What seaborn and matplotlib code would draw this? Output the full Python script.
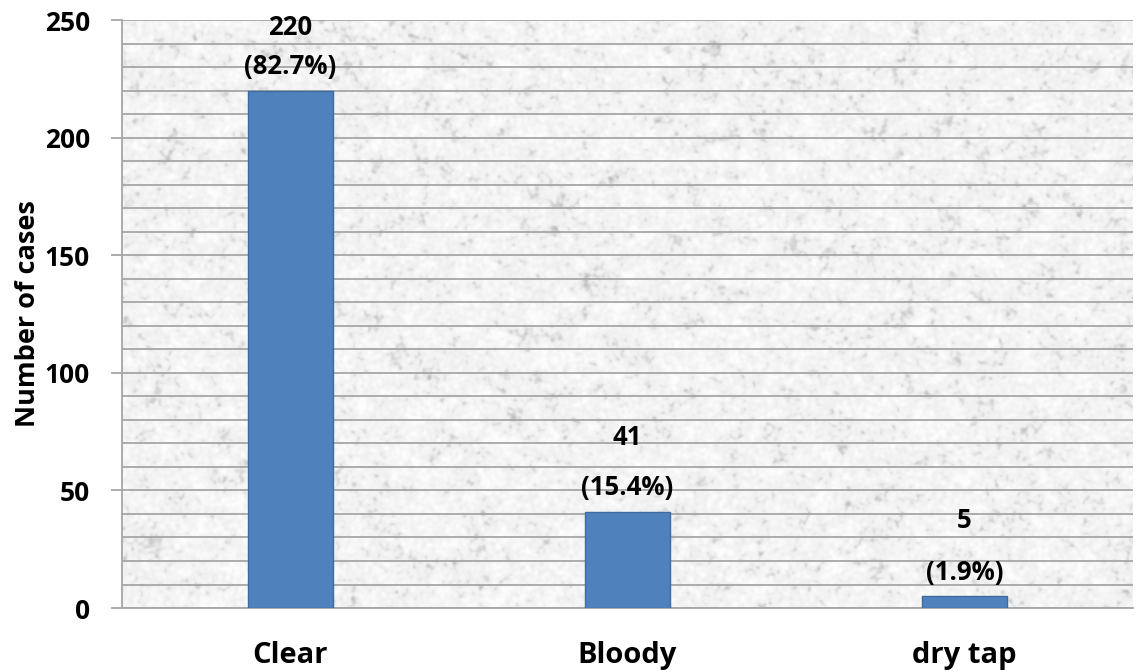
import numpy as np
import pandas as pd
import matplotlib
matplotlib.use("Agg")
import matplotlib.pyplot as plt
import seaborn as sns

# Data
categories = ["Clear", "Bloody", "dry tap"]
counts = [220, 41, 5]
percent_labels = ["(82.7%)", "(15.4%)", "(1.9%)"]

sns.set_theme(style="white")
plt.rcParams["font.family"] = ["Open Sans", "DejaVu Sans"]
plt.rcParams["font.weight"] = "bold"

fig = plt.figure(figsize=(11.39, 6.72), dpi=100)
ax = fig.add_axes([0.1071, 0.0952, 0.8876, 0.8750])

# Granite-like mottled background for the plot area (band-limited noise)
rng = np.random.default_rng(11)
h, w = 588, 1011

def filtered_noise(sigma):
    n = rng.standard_normal((h, w))
    fy = np.fft.fftfreq(h)[:, None]
    fx = np.fft.fftfreq(w)[None, :]
    g = np.exp(-2 * (np.pi * sigma) ** 2 * (fx ** 2 + fy ** 2))
    out = np.real(np.fft.ifft2(np.fft.fft2(n) * g))
    return (out - out.mean()) / out.std()

tex = 0.55 * filtered_noise(1.6) + 0.45 * filtered_noise(5.0)
shade = 0.955 + 0.022 * np.clip(tex, -1, 2) - 0.09 * np.clip(-tex - 0.85, 0, 2)
shade = np.clip(shade, 0.74, 0.99)
rgb = np.dstack([shade, shade, shade])

df = pd.DataFrame({"category": categories, "count": counts})
sns.barplot(data=df, x="category", y="count", color="#4F81BD",
            edgecolor="#3D6B9F", linewidth=1.0, width=0.255, saturation=1,
            ax=ax, zorder=3)

ax.imshow(rgb, extent=(-0.5, 2.5, 0, 250), aspect="auto", zorder=0,
          interpolation="nearest")
ax.set_xlim(-0.5, 2.5)
ax.set_ylim(0, 250)

# Gridlines every 10, labelled ticks every 50
ax.set_yticks(np.arange(0, 251, 50))
ax.set_yticks(np.arange(0, 251, 10), minor=True)
ax.set_axisbelow(True)
ax.grid(axis="y", which="both", color="#a6a6a6", linewidth=1.3, zorder=1)
ax.grid(axis="x", visible=False)
ax.tick_params(axis="y", which="major", length=8, width=1.3, color="#a6a6a6",
               left=True, labelsize=19, pad=15)
ax.tick_params(axis="y", which="minor", length=0)
ax.tick_params(axis="x", length=0, labelsize=21, pad=24)
for lbl in ax.get_yticklabels() + ax.get_xticklabels():
    lbl.set_fontweight("bold")
    lbl.set_color("black")

for side in ["top", "right"]:
    ax.spines[side].set_visible(False)
for side in ["left", "bottom"]:
    ax.spines[side].set_color("#a6a6a6")
    ax.spines[side].set_linewidth(1.3)

ax.set_xlabel("")
ax.set_ylabel("Number of cases", fontsize=19.5, fontweight="bold",
              color="black")
ax.yaxis.set_label_coords(-0.080, 0.5)

# Value and share labels above each bar
count_offsets = [63, 74, 76]
for i, (c, p) in enumerate(zip(counts, percent_labels)):
    ax.annotate(str(c), (i, c), xytext=(0, count_offsets[i]),
                textcoords="offset pixels", ha="center", va="center",
                fontsize=18.5, fontweight="bold", color="black", zorder=5,
                annotation_clip=False)
    ax.annotate(p, (i, c), xytext=(0, 24), textcoords="offset pixels",
                ha="center", va="center", fontsize=18.5, fontweight="bold",
                color="black", zorder=5)

fig.savefig("out.png", dpi=100, facecolor="white")
